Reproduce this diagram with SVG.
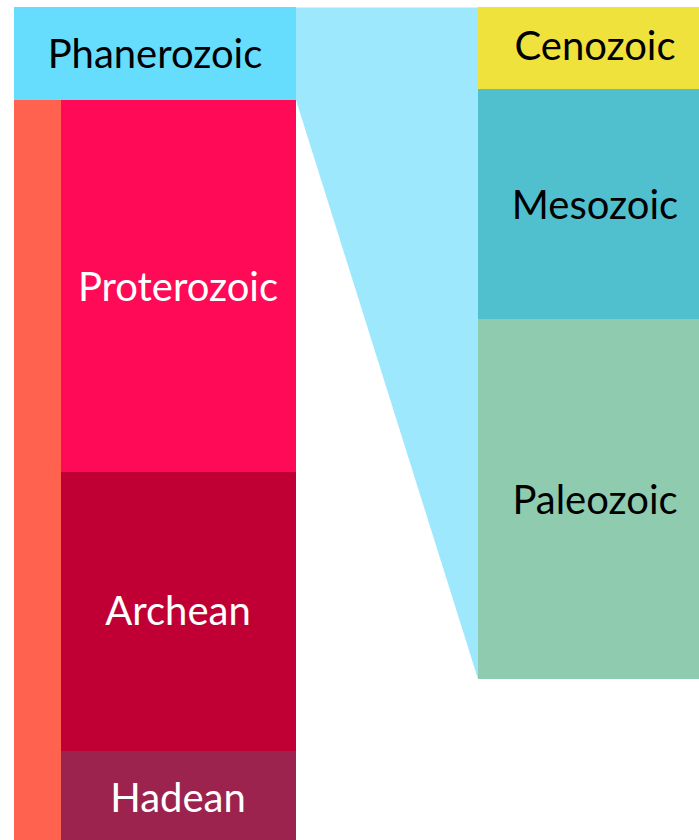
<svg xmlns="http://www.w3.org/2000/svg" width="699" height="840" viewBox="0 0 699 840">
<style>
text{font-family:Lato,"Open Sans","Liberation Sans",sans-serif;font-size:40px;text-anchor:middle}
.d{fill:#000}
.w{fill:#fff}
</style>
<rect width="699" height="840" fill="#fff"/>
<g id="connectors">
<polygon points="296,7.5 478,7.5 478,679 296,100" fill="#9de8fd"/>
</g>
<g id="eon-strip"><rect x="14" y="100" width="47" height="740" fill="#ff6350"/></g>
<g id="phanerozoic"><rect x="14" y="7" width="282" height="93" fill="#66ddfd"/><text class="d" x="155" y="68">Phanerozoic</text></g>
<g id="proterozoic"><rect x="61" y="100" width="235" height="372" fill="#ff0a57"/><text class="w" x="178" y="301">Proterozoic</text></g>
<g id="archean"><rect x="61" y="472" width="235" height="279" fill="#c00035"/><text class="w" x="178" y="625">Archean</text></g>
<g id="hadean"><rect x="61" y="751" width="235" height="89" fill="#9b234d"/><text class="w" x="178" y="812">Hadean</text></g>
<g id="cenozoic"><rect x="478" y="7" width="221" height="82" fill="#efe23c"/><text class="d" x="595" y="60">Cenozoic</text></g>
<g id="mesozoic"><rect x="478" y="89" width="221" height="230" fill="#50c0cf"/><text class="d" x="595" y="219">Mesozoic</text></g>
<g id="paleozoic"><rect x="478" y="319" width="221" height="360" fill="#8fcbae"/><text class="d" x="595" y="514">Paleozoic</text></g>
</svg>
